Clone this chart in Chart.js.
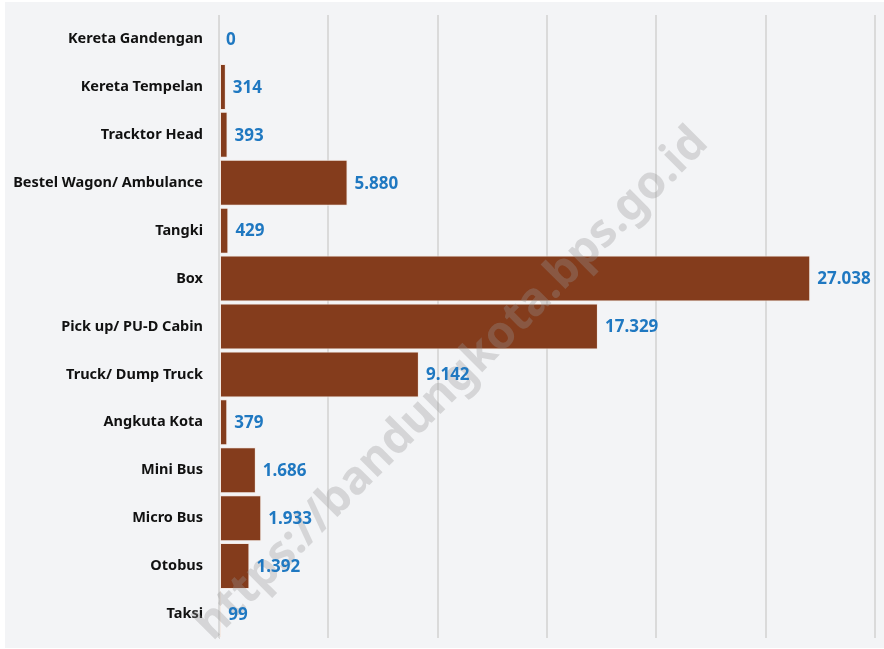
<!DOCTYPE html>
<html>
<head>
<meta charset="utf-8">
<script src="https://cdn.jsdelivr.net/npm/chart.js@4.4.0/dist/chart.umd.min.js"></script>
<style>
  html, body { margin: 0; padding: 0; background: #fff; }
  #wrap { width: 884px; height: 649px; }
</style>
</head>
<body>
<div id="wrap"><canvas id="jenisChart" width="884" height="649"></canvas></div>
<script>
const categories = ['Kereta Gandengan', 'Kereta Tempelan', 'Tracktor Head', 'Bestel Wagon/ Ambulance',
    'Tangki', 'Box', 'Pick up/ PU-D Cabin', 'Truck/ Dump Truck', 'Angkuta Kota',
    'Mini Bus', 'Micro Bus', 'Otobus', 'Taksi']
const jumlah = [0, 314, 393, 5880, 429, 27038, 17329, 9142, 379, 1686, 1933, 1392, 99]
const xTicks = [0, 5000, 10000, 15000, 20000, 25000, 30000]

const fmt = v => v.toString().replace(/\B(?=(\d{3})+(?!\d))/g, '.')

// panel background
const panelBg = {
    id: 'panelBg',
    beforeDraw(chart) {
        const c = chart.ctx
        c.save()
        c.fillStyle = '#ffffff'
        c.fillRect(0, 0, chart.width, chart.height)
        c.fillStyle = '#f3f4f6'
        c.fillRect(5, 2, chart.width - 5, chart.height - 3)
        c.restore()
    }
}

const watermark = {
    id: 'watermark',
    afterDatasetsDraw(chart) {
        const c = chart.ctx
        c.save()
        c.translate(452, 384)
        c.rotate(-Math.PI / 4)
        c.font = 'bold 46px "Noto Sans"'
        c.fillStyle = 'rgba(150,150,150,0.32)'
        c.textAlign = 'center'
        c.textBaseline = 'middle'
        c.fillText('https://bandungkota.bps.go.id', 0, 0)
        c.restore()
    }
}

const valueLabels = {
    id: 'valueLabels',
    afterDraw(chart) {
        const c = chart.ctx
        const meta = chart.getDatasetMeta(0)
        c.save()
        c.font = 'bold 17px "Noto Sans"'
        c.fillStyle = '#1f78c1'
        c.textBaseline = 'middle'
        meta.data.forEach((bar, i) => {
            c.fillText(fmt(jumlah[i]), bar.x + 7, bar.y + 1)
        })
        c.restore()
    }
}

const data = {
    labels: categories,
    datasets: [{
        data: jumlah,
        backgroundColor: '#843c1c',
        borderColor: '#f3e9e4',
        borderWidth: 1,
        borderSkipped: false,
        barPercentage: 0.96,
        categoryPercentage: 1
    }]
}

const options = {
    indexAxis: 'y',
    responsive: false,
    animation: false,
    layout: { padding: { left: 0, right: 9, top: 15, bottom: 11 } },
    plugins: {
        legend: { display: false },
        tooltip: { enabled: false }
    },
    scales: {
        x: {
            min: 0,
            max: 30000,
            afterBuildTicks: s => { s.ticks = xTicks.map(v => ({ value: v })) },
            ticks: { display: false },
            grid: { color: '#dadada', lineWidth: 2, drawTicks: false },
            border: { display: false },
            afterFit: s => { s.height = 0; s.paddingLeft = 0; s.paddingRight = 0 }
        },
        y: {
            ticks: { color: '#111', font: { family: 'Noto Sans', weight: 'bold', size: 14.5 }, padding: 16 },
            grid: { display: false, drawTicks: false },
            border: { display: true, color: '#d9d9d9', width: 1 },
            afterFit: s => { s.width = 219; s.paddingTop = 0; s.paddingBottom = 0 }
        }
    }
}

new Chart('jenisChart', { type: 'bar', data, options, plugins: [panelBg, watermark, valueLabels] })
</script>
</body>
</html>
